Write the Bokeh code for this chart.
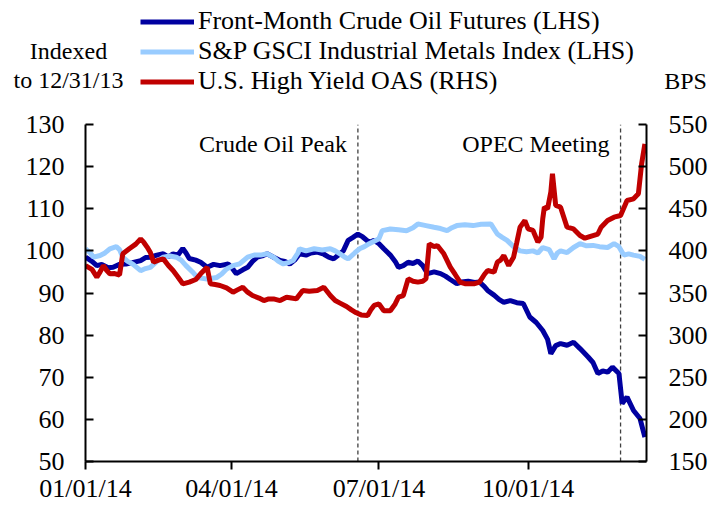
import pandas as pd
from bokeh.plotting import figure
from bokeh.layouts import column
from bokeh.models import (Range1d, LinearAxis, Label, Legend, LegendItem,
                          FixedTicker, DatetimeTickFormatter, ColumnDataSource)
from bokeh.embed import file_html
from bokeh.resources import INLINE

# ---------------- data ----------------
crude_dates = ["2014-01-01","2014-01-05","2014-01-08","2014-01-11","2014-01-15","2014-01-18",
  "2014-01-22","2014-01-26","2014-01-30","2014-02-04","2014-02-07","2014-02-10","2014-02-14",
  "2014-02-18","2014-02-21","2014-02-24","2014-02-27","2014-03-02","2014-03-04","2014-03-06",
  "2014-03-10","2014-03-13","2014-03-17","2014-03-21","2014-03-25","2014-03-30","2014-04-01",
  "2014-04-04","2014-04-08","2014-04-11","2014-04-14","2014-04-17","2014-04-20","2014-04-23",
  "2014-04-27","2014-05-01","2014-05-04","2014-05-07","2014-05-10","2014-05-13","2014-05-17",
  "2014-05-20","2014-05-24","2014-05-28","2014-05-31","2014-06-03","2014-06-06","2014-06-09",
  "2014-06-12","2014-06-15","2014-06-18","2014-06-21","2014-06-25","2014-06-28","2014-07-01",
  "2014-07-04","2014-07-08","2014-07-11","2014-07-13","2014-07-16","2014-07-19","2014-07-22",
  "2014-07-25","2014-07-28","2014-07-31","2014-08-04","2014-08-08","2014-08-11","2014-08-14",
  "2014-08-18","2014-08-21","2014-08-25","2014-08-29","2014-09-01","2014-09-04","2014-09-06",
  "2014-09-10","2014-09-13","2014-09-16","2014-09-20","2014-09-24","2014-09-28","2014-10-02",
  "2014-10-06","2014-10-10","2014-10-13","2014-10-15","2014-10-18","2014-10-21","2014-10-25",
  "2014-10-29","2014-11-02","2014-11-07","2014-11-10","2014-11-13","2014-11-16","2014-11-19",
  "2014-11-22","2014-11-26","2014-11-28","2014-12-01","2014-12-05","2014-12-09","2014-12-12"]
crude_values = [98.5,97.5,96.5,96.8,96.0,96.1,96.8,96.9,97.2,97.7,98.4,98.5,99.0,99.3,98.6,99.3,
  99.0,100.6,99.5,98.2,97.8,97.3,96.1,96.8,96.5,96.9,96.1,94.6,95.5,96.1,97.5,98.5,98.8,99.3,
  98.5,97.7,97.5,96.9,97.8,99.3,99.0,99.5,99.7,99.2,98.5,98.1,99.0,100.0,102.5,103.2,104.0,
  103.3,102.0,102.5,101.7,100.5,99.0,97.5,96.1,96.5,97.3,97.0,97.6,96.5,94.6,95.0,94.6,94.0,
  93.2,92.2,92.6,92.8,92.5,92.6,91.5,90.6,89.5,88.5,87.8,88.2,87.7,87.5,84.3,83.0,81.1,79.0,
  75.6,77.5,78.0,77.6,78.3,76.8,74.8,73.5,70.9,71.5,71.2,72.4,70.9,63.8,65.3,62.1,60.2,55.8]

metals_dates = ["2014-01-01","2014-01-04","2014-01-06","2014-01-10","2014-01-13","2014-01-16",
  "2014-01-20","2014-01-22","2014-01-24","2014-01-27","2014-01-30","2014-02-04","2014-02-07",
  "2014-02-10","2014-02-14","2014-02-18","2014-02-22","2014-02-26","2014-03-01","2014-03-04",
  "2014-03-08","2014-03-11","2014-03-14","2014-03-17","2014-03-20","2014-03-23","2014-03-26",
  "2014-03-29","2014-04-02","2014-04-06","2014-04-11","2014-04-15","2014-04-19","2014-04-23",
  "2014-04-27","2014-04-30","2014-05-03","2014-05-06","2014-05-09","2014-05-12","2014-05-13",
  "2014-05-17","2014-05-22","2014-05-27","2014-06-01","2014-06-04","2014-06-07","2014-06-10",
  "2014-06-12","2014-06-16","2014-06-19","2014-06-22","2014-06-25","2014-06-28","2014-07-01",
  "2014-07-03","2014-07-08","2014-07-13","2014-07-18","2014-07-22","2014-07-25","2014-07-30",
  "2014-08-04","2014-08-08","2014-08-12","2014-08-15","2014-08-18","2014-08-23","2014-08-28",
  "2014-09-02","2014-09-08","2014-09-12","2014-09-15","2014-09-18","2014-09-22","2014-09-26",
  "2014-09-30","2014-10-04","2014-10-07","2014-10-10","2014-10-14","2014-10-17","2014-10-19",
  "2014-10-21","2014-10-25","2014-10-29","2014-11-02","2014-11-06","2014-11-10","2014-11-14",
  "2014-11-19","2014-11-23","2014-11-26","2014-11-29","2014-12-02","2014-12-05","2014-12-09",
  "2014-12-12"]
metals_values = [100.5,99.5,98.5,98.9,99.5,100.5,101.0,100.3,98.5,97.5,96.9,95.3,95.8,96.1,97.5,
  98.5,98.8,98.5,97.8,96.5,95.0,93.7,93.5,93.3,93.5,93.7,94.5,95.7,96.5,96.9,98.5,99.0,99.0,
  99.3,98.5,97.5,96.9,97.2,97.7,99.5,100.5,100.0,100.5,100.2,100.5,100.0,99.3,98.5,98.1,99.5,
  100.5,101.0,101.7,102.3,102.9,104.8,105.2,105.0,104.8,105.5,106.4,106.0,105.6,105.3,104.8,
  105.5,106.0,106.2,106.0,106.3,106.4,104.0,103.2,102.5,101.0,100.0,99.8,100.0,99.5,100.8,
  100.3,98.1,99.5,100.0,99.6,100.8,101.7,101.2,101.3,101.0,100.8,101.7,101.0,99.0,99.3,99.0,
  98.7,98.0]

oas_dates = ["2014-01-01","2014-01-05","2014-01-08","2014-01-10","2014-01-12","2014-01-14",
  "2014-01-16","2014-01-19","2014-01-22","2014-01-24","2014-01-28","2014-02-01","2014-02-04",
  "2014-02-06","2014-02-08","2014-02-10","2014-02-12","2014-02-15","2014-02-18","2014-02-21",
  "2014-02-24","2014-02-27","2014-03-02","2014-03-06","2014-03-10","2014-03-13","2014-03-17",
  "2014-03-19","2014-03-22","2014-03-25","2014-03-29","2014-04-02","2014-04-05","2014-04-08",
  "2014-04-11","2014-04-14","2014-04-18","2014-04-21","2014-04-24","2014-04-27","2014-05-01",
  "2014-05-05","2014-05-08","2014-05-11","2014-05-15","2014-05-19","2014-05-24","2014-05-28",
  "2014-06-01","2014-06-04","2014-06-07","2014-06-11","2014-06-14","2014-06-17","2014-06-20",
  "2014-06-24","2014-06-26","2014-06-28","2014-07-01","2014-07-04","2014-07-08","2014-07-11",
  "2014-07-13","2014-07-16","2014-07-19","2014-07-22","2014-07-25","2014-07-28","2014-07-30",
  "2014-08-01","2014-08-04","2014-08-06","2014-08-10","2014-08-14","2014-08-17","2014-08-20",
  "2014-08-23","2014-08-26","2014-08-29","2014-09-01","2014-09-04","2014-09-06","2014-09-10",
  "2014-09-12","2014-09-14","2014-09-16","2014-09-19","2014-09-22","2014-09-24","2014-09-26",
  "2014-09-29","2014-10-01","2014-10-04","2014-10-07","2014-10-09","2014-10-10","2014-10-11",
  "2014-10-13","2014-10-15","2014-10-16","2014-10-18","2014-10-21","2014-10-23","2014-10-25",
  "2014-10-29","2014-11-02","2014-11-05","2014-11-07","2014-11-10","2014-11-13","2014-11-15",
  "2014-11-19","2014-11-23","2014-11-27","2014-12-01","2014-12-05","2014-12-08","2014-12-10",
  "2014-12-12"]
oas_values = [382.6,378,368.8,375,382.6,377,372.8,373,371.4,396.5,402.5,408,414.3,410,404.5,398,
  386.6,389,390.5,383,376.7,369,360.9,362.9,366,372.8,380.7,360.9,360,358.9,356,351.0,354,
  356.9,351,347.0,344,341.0,343,343.0,341,345.0,344,343.0,353.0,352,353.0,356.9,347.0,341,
  338,334,330,326.5,324,323.3,330,335.2,337.0,329.0,329.0,337,345.0,347.0,366.8,364,362.9,
  364,366.8,408.4,405,406.4,396.5,380.7,372,362.9,361,360.9,361,362.9,372,376.7,374.8,386.6,
  389,394.5,382.6,392.5,410,428.1,436.0,426.1,424.2,410.4,416.3,438,451.9,450.0,470,491.5,
  453.9,451.9,440,428.1,426.1,418.2,415,416.3,418.2,420,428.1,436.0,440.0,442.0,459.8,461.8,
  467.7,503.4,527]

tick_dates = ["2014-01-01", "2014-04-01", "2014-07-01", "2014-10-01"]
left_ticks = [50, 60, 70, 80, 90, 100, 110, 120, 130]
right_ticks = [150, 200, 250, 300, 350, 400, 450, 500, 550]
event_dates = ["2014-06-18", "2014-11-27"]
event_labels = ["Crude Oil Peak", "OPEC Meeting"]
series_names = ["Front-Month Crude Oil Futures (LHS)",
                "S&P GSCI Industrial Metals Index (LHS)",
                "U.S. High Yield OAS (RHS)"]
series_colors = ["#0000A0", "#99CCFF", "#C00000"]

# ---------------- layout constants ----------------
FONT = "Liberation Serif"
W = 723
HEAD_H = 100                       # header strip (legend + side titles)
MAIN_H = 406
FL, FR = 85, 646                   # plot-area left / right (px)
FT, FB = 124 - HEAD_H, 461 - HEAD_H  # plot-area top / bottom inside main figure

# ---------------- header figure: legend and side titles ----------------
head = figure(width=W, height=HEAD_H, x_range=Range1d(0, W), y_range=Range1d(HEAD_H, 0),
              x_axis_location=None, y_axis_location=None,
              output_backend="svg", toolbar_location=None,
              min_border=0, min_border_left=0, min_border_right=0,
              min_border_top=0, min_border_bottom=0)
head.outline_line_color = None
head.xgrid.visible = False
head.ygrid.visible = False

# main chart figure (created now so frame alignment can be switched off for both)
x_start = pd.Timestamp("2014-01-01")
x_end = pd.Timestamp("2014-12-13")
lo_l, hi_l = left_ticks[0], left_ticks[-1]
lo_r, hi_r = right_ticks[0], right_ticks[-1]
p = figure(width=W, height=MAIN_H, x_axis_type="datetime",
           x_range=Range1d(x_start, x_end), y_range=Range1d(lo_l, hi_l),
           output_backend="svg", toolbar_location=None,
           min_border_left=FL, min_border_right=W - FR, min_border_top=FT,
           min_border_bottom=MAIN_H - FB)

legend_x = 140
try:
    head.frame_align = False
    p.frame_align = False
except Exception:
    # frames stay aligned: header frame spans the plot area only
    head.x_range = Range1d(FL, FR)
    legend_x = 140 - FL

nan = float("nan")
key_renderers = [head.line(x=[nan], y=[nan], line_color=c, line_width=5)
                 for c in series_colors]
legend = Legend(items=[LegendItem(label=n, renderers=[r])
                       for n, r in zip(series_names, key_renderers)],
                location=(legend_x, 4), orientation="vertical",
                glyph_width=54, glyph_height=29, label_height=29, label_standoff=4,
                spacing=0, padding=0, margin=0,
                border_line_color=None, background_fill_alpha=0,
                label_text_font=FONT, label_text_font_size="26px",
                label_text_color="black", label_text_baseline="middle")
head.add_layout(legend, "center")
for txt, cx, cy in [("Indexed", 68, 50), ("to 12/31/13", 68, 79), ("BPS", 685, 80)]:
    head.add_layout(Label(x=cx, y=cy, text=txt, text_align="center",
                          text_baseline="middle", text_font=FONT,
                          text_font_size="24px", text_color="black"))

# ---------------- main chart ----------------
p.outline_line_color = None
p.xgrid.visible = False
p.ygrid.visible = False
p.extra_y_ranges = {"right": Range1d(lo_r, hi_r)}

c_src = ColumnDataSource(dict(x=pd.to_datetime(crude_dates), y=crude_values))
m_src = ColumnDataSource(dict(x=pd.to_datetime(metals_dates), y=metals_values))
o_src = ColumnDataSource(dict(x=pd.to_datetime(oas_dates), y=oas_values))

ev = pd.to_datetime(event_dates)
p.segment(x0=ev, x1=ev, y0=[lo_l] * len(ev), y1=[hi_l] * len(ev),
          line_color="#404040", line_width=1.3, line_dash="4 3")

p.line("x", "y", source=c_src, line_color=series_colors[0], line_width=5)
p.line("x", "y", source=m_src, line_color=series_colors[1], line_width=5)
p.line("x", "y", source=o_src, line_color=series_colors[2], line_width=5,
       y_range_name="right")

xa = p.xaxis[0]
xa.ticker = FixedTicker(ticks=[pd.Timestamp(d).value / 1e6 for d in tick_dates])
fmt = "%m/%d/%y"
xa.formatter = DatetimeTickFormatter(days=fmt, months=fmt, years=fmt, hours=fmt,
                                     minutes=fmt, seconds=fmt, milliseconds=fmt,
                                     microseconds=fmt, minsec=fmt, hourmin=fmt)
xa.major_tick_in = 0
xa.major_tick_out = 8
xa.minor_tick_line_color = None
xa.major_label_standoff = 4

ya = p.yaxis[0]
ya.ticker = FixedTicker(ticks=left_ticks)
ya.major_tick_in = 8
ya.major_tick_out = 0
ya.minor_tick_line_color = None
ya.major_label_standoff = 21

ra = LinearAxis(y_range_name="right", ticker=FixedTicker(ticks=right_ticks))
ra.major_tick_in = 8
ra.major_tick_out = 0
ra.minor_tick_line_color = None
ra.major_label_standoff = 22
p.add_layout(ra, "right")

for ax in (xa, ya, ra):
    ax.axis_line_width = 2
    ax.axis_line_color = "black"
    ax.major_tick_line_width = 2
    ax.major_tick_line_color = "black"
    ax.major_label_text_font = FONT
    ax.major_label_text_font_size = "26px"
    ax.major_label_text_color = "black"

for d, lab in zip(event_dates, event_labels):
    p.add_layout(Label(x=pd.Timestamp(d).value / 1e6, y=FB - (143 - HEAD_H),
                       y_units="screen", x_offset=-11, text=lab, text_align="right",
                       text_baseline="middle", text_font=FONT,
                       text_font_size="24px", text_color="black"))

page = column(head, p, spacing=0)
open("out.html", "w").write(file_html(page, INLINE))
